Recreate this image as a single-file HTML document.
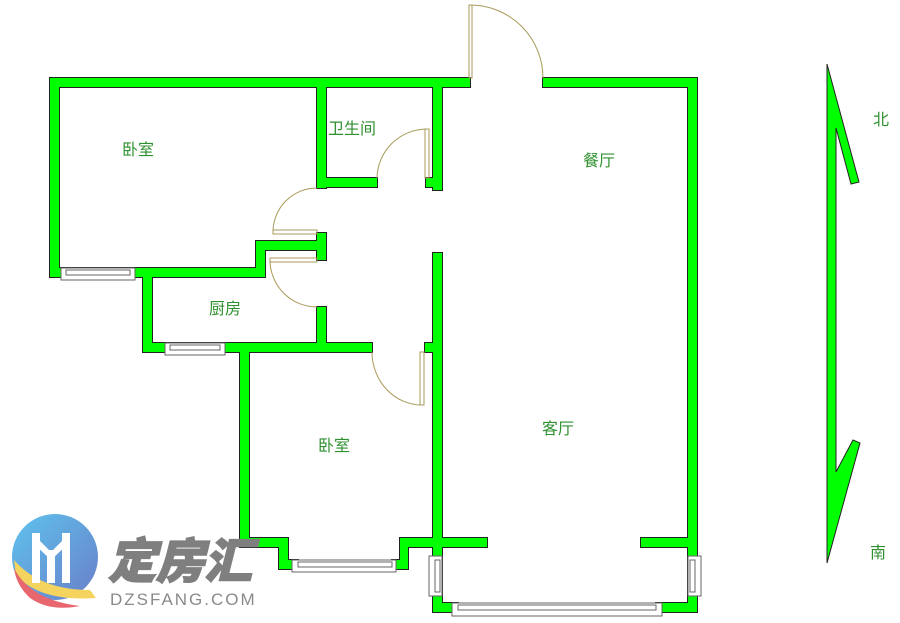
<!DOCTYPE html>
<html><head><meta charset="utf-8"><style>
html,body{margin:0;padding:0;background:#fff;}
svg{display:block}
.t{font-family:"Liberation Sans","Noto Sans CJK SC",sans-serif;fill:#2f902f;font-size:16px}
</style></head><body>
<svg width="900" height="623" viewBox="0 0 900 623" xmlns="http://www.w3.org/2000/svg">
<defs>
<linearGradient id="g" x1="0" y1="0" x2="1" y2="1"><stop offset="0" stop-color="#5ec3ee"/><stop offset="1" stop-color="#6a7ec8"/></linearGradient>
<g id="w">
<rect x="50" y="78" width="420" height="9"/>
<rect x="543" y="78" width="154" height="9"/>
<rect x="50" y="78" width="9" height="199"/>
<rect x="688" y="78" width="9" height="477"/>
<rect x="317" y="78" width="9" height="110"/>
<rect x="317" y="178" width="60" height="9"/>
<rect x="433" y="78" width="9" height="112"/>
<rect x="426" y="178" width="16" height="9"/>
<rect x="50" y="268" width="215" height="9"/>
<rect x="256" y="241" width="9" height="36"/>
<rect x="256" y="241" width="70" height="9"/>
<rect x="317" y="233" width="9" height="27"/>
<rect x="143" y="268" width="9" height="84"/>
<rect x="143" y="343" width="229" height="9"/>
<rect x="317" y="307" width="9" height="45"/>
<rect x="425" y="343" width="17" height="9"/>
<rect x="433" y="253" width="9" height="359"/>
<rect x="240" y="343" width="9" height="204"/>
<rect x="240" y="538" width="48" height="9"/>
<rect x="279" y="538" width="9" height="31"/>
<rect x="279" y="560" width="19" height="9"/>
<rect x="392" y="560" width="16" height="9"/>
<rect x="400" y="538" width="8" height="31"/>
<rect x="400" y="538" width="87" height="9"/>
<rect x="641" y="538" width="56" height="9"/>
<rect x="433" y="603" width="25" height="9"/>
<rect x="656" y="603" width="41" height="9"/>
<rect x="688" y="538" width="9" height="74"/>
</g>
</defs>
<g fill="#00ee00" stroke="#222" stroke-width="2"><use href="#w"/></g>
<g fill="#00ff00"><use href="#w"/></g>
<g fill="#fff" stroke="#666" stroke-width="1">
<rect x="61" y="268" width="74" height="12"/>
<rect x="66" y="270" width="64" height="5"/>
<rect x="165" y="343" width="60" height="12"/>
<rect x="170" y="345" width="50" height="5"/>
<rect x="292" y="560" width="104" height="12"/>
<rect x="298" y="562" width="94" height="5"/>
<rect x="429" y="556" width="13" height="40"/>
<rect x="435" y="560" width="5" height="32"/>
<rect x="688" y="556" width="13" height="40"/>
<rect x="690" y="560" width="5" height="32"/>
<rect x="452" y="603" width="210" height="13"/>
<rect x="458" y="605" width="198" height="5"/>
</g>
<g fill="none" stroke="#a99a5a" stroke-width="1">
<rect x="469" y="5" width="3" height="73"/>
<path d="M470 5 A73 73 0 0 1 543 78"/>
<rect x="425" y="129" width="4" height="49"/>
<path d="M427 129 A50 50 0 0 0 377 178"/>
<rect x="273" y="230" width="44" height="4"/>
<path d="M273 232 A44 44 0 0 1 317 188"/>
<rect x="270" y="258" width="47" height="4"/>
<path d="M270 260 A47 47 0 0 0 317 307"/>
<rect x="420" y="352" width="4" height="53"/>
<path d="M422 405 A50 53 0 0 1 372 352"/>
</g>
<text class="t" x="122" y="155">卧室</text>
<text class="t" x="328" y="134">卫生间</text>
<text class="t" x="583" y="166">餐厅</text>
<text class="t" x="209" y="314">厨房</text>
<text class="t" x="318" y="451">卧室</text>
<text class="t" x="542" y="434">客厅</text>
<text class="t" x="873" y="125">北</text>
<text class="t" x="870" y="558">南</text>
<polygon points="827,64 859,182 851,184 836,128 836,472 853,440 860,443 827,563" fill="#00ff00" stroke="#222" stroke-width="1"/>
<circle cx="55" cy="557" r="43" fill="url(#g)"/>
<path d="M14 560 Q40 590 90 590 L96 598 Q40 602 16 575 Z" fill="#f4d35e"/>
<path d="M14 568 Q30 600 80 606 Q50 612 30 598 Q16 585 14 568 Z" fill="#e8666e"/>
<g fill="#fff"><rect x="32" y="533" width="8" height="50"/><rect x="62" y="533" width="8" height="50"/><path d="M32 533 L51 552 L51 560 L32 542Z"/><path d="M70 533 L51 552 L51 560 L70 542Z"/><rect x="47" y="550" width="8" height="33"/></g>
<text x="108" y="578" font-family="'Noto Sans CJK SC',sans-serif" font-weight="900" font-style="italic" font-size="48" fill="#7f7f7f" stroke="#7f7f7f" stroke-width="1.5">定房汇</text>
<text x="110" y="605" font-family="'Liberation Sans',sans-serif" font-size="17" letter-spacing="2" fill="#8a8a8a">DZSFANG.COM</text>
</svg>
</body></html>
